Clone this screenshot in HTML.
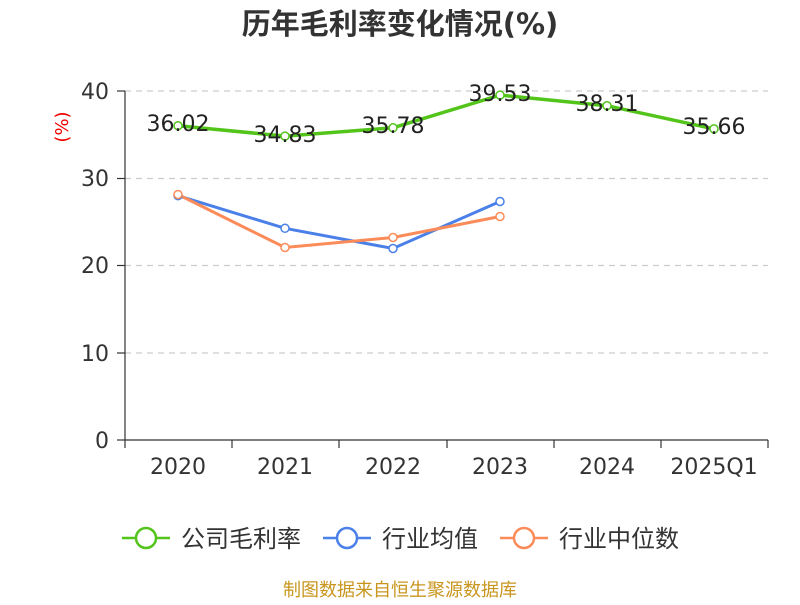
<!DOCTYPE html>
<html><head><meta charset="utf-8"><style>
body{margin:0;background:#fff}
svg text{font-family:"DejaVu Sans","Noto Sans CJK SC",sans-serif}
</style></head><body>
<svg width="800" height="600" xmlns="http://www.w3.org/2000/svg">
<text x="400" y="34" text-anchor="middle" font-size="29" font-weight="bold" fill="#333">历年毛利率变化情况(%)</text>
<text x="68" y="127" font-size="18" fill="#e00" text-anchor="middle" transform="rotate(-90 68 127)">(%)</text>
<g stroke="#ccc" stroke-dasharray="6,5" stroke-width="1.2">
<line x1="125" y1="91" x2="768" y2="91"/><line x1="125" y1="178.5" x2="768" y2="178.5"/>
<line x1="125" y1="265.5" x2="768" y2="265.5"/><line x1="125" y1="353" x2="768" y2="353"/>
</g>
<g stroke="#333" stroke-width="1.2">
<line x1="125" y1="91" x2="125" y2="440"/><line x1="125" y1="440" x2="768" y2="440"/>
<line x1="117" y1="91" x2="125" y2="91"/><line x1="117" y1="178.5" x2="125" y2="178.5"/><line x1="117" y1="265.5" x2="125" y2="265.5"/><line x1="117" y1="353" x2="125" y2="353"/><line x1="117" y1="440" x2="125" y2="440"/>
<line x1="125" y1="440" x2="125" y2="448"/><line x1="232" y1="440" x2="232" y2="448"/><line x1="339" y1="440" x2="339" y2="448"/><line x1="447" y1="440" x2="447" y2="448"/><line x1="554" y1="440" x2="554" y2="448"/><line x1="661" y1="440" x2="661" y2="448"/><line x1="768" y1="440" x2="768" y2="448"/>
</g>
<g font-size="22" fill="#333" text-anchor="end">
<text x="109" y="99">40</text><text x="109" y="186">30</text><text x="109" y="273">20</text><text x="109" y="361">10</text><text x="109" y="448">0</text>
</g>
<g font-size="22" fill="#333" text-anchor="middle">
<text x="178" y="474">2020</text><text x="285" y="474">2021</text><text x="393" y="474">2022</text><text x="500" y="474">2023</text><text x="607" y="474">2024</text><text x="714" y="474">2025Q1</text>
</g>
<polyline fill="none" stroke="#52c41a" stroke-width="3.5" points="178,125.7 285,136.1 393,127.8 500,95.1 607,105.7 714,128.9"/>
<polyline fill="none" stroke="#4a80e8" stroke-width="3" points="178,195.7 285,228.3 393,248.5 500,201.5"/>
<polyline fill="none" stroke="#fb8c5a" stroke-width="3" points="178,194.5 285,247.5 393,237.5 500,216.5"/>
<g fill="#fff" stroke-width="1.5">
<g stroke="#52c41a"><circle cx="178" cy="125.7" r="4"/><circle cx="285" cy="136.1" r="4"/><circle cx="393" cy="127.8" r="4"/><circle cx="500" cy="95.1" r="4"/><circle cx="607" cy="105.7" r="4"/><circle cx="714" cy="128.9" r="4"/></g>
<g stroke="#4a80e8"><circle cx="178" cy="195.7" r="4"/><circle cx="285" cy="228.3" r="4"/><circle cx="393" cy="248.5" r="4"/><circle cx="500" cy="201.5" r="4"/></g>
<g stroke="#fb8c5a"><circle cx="178" cy="194.5" r="4"/><circle cx="285" cy="247.5" r="4"/><circle cx="393" cy="237.5" r="4"/><circle cx="500" cy="216.5" r="4"/></g>
</g>
<g font-size="22" fill="#222" text-anchor="middle">
<text x="178" y="131">36.02</text><text x="285" y="142">34.83</text><text x="393" y="133">35.78</text><text x="500" y="101">39.53</text><text x="607" y="111">38.31</text><text x="714" y="134">35.66</text>
</g>
<g stroke-width="2.5" fill="#fff">
<line x1="122" y1="538" x2="170" y2="538" stroke="#52c41a"/><circle cx="146" cy="538" r="10" stroke="#52c41a"/>
<line x1="323" y1="538" x2="371" y2="538" stroke="#4a80e8"/><circle cx="347" cy="538" r="10" stroke="#4a80e8"/>
<line x1="500" y1="538" x2="548" y2="538" stroke="#fb8c5a"/><circle cx="524" cy="538" r="10" stroke="#fb8c5a"/>
</g>
<g font-size="24" fill="#333">
<text x="181" y="547">公司毛利率</text><text x="382" y="547">行业均值</text><text x="559" y="547">行业中位数</text>
</g>
<text x="400" y="596" text-anchor="middle" font-size="18" fill="#c8961e">制图数据来自恒生聚源数据库</text>
</svg>
</body></html>
